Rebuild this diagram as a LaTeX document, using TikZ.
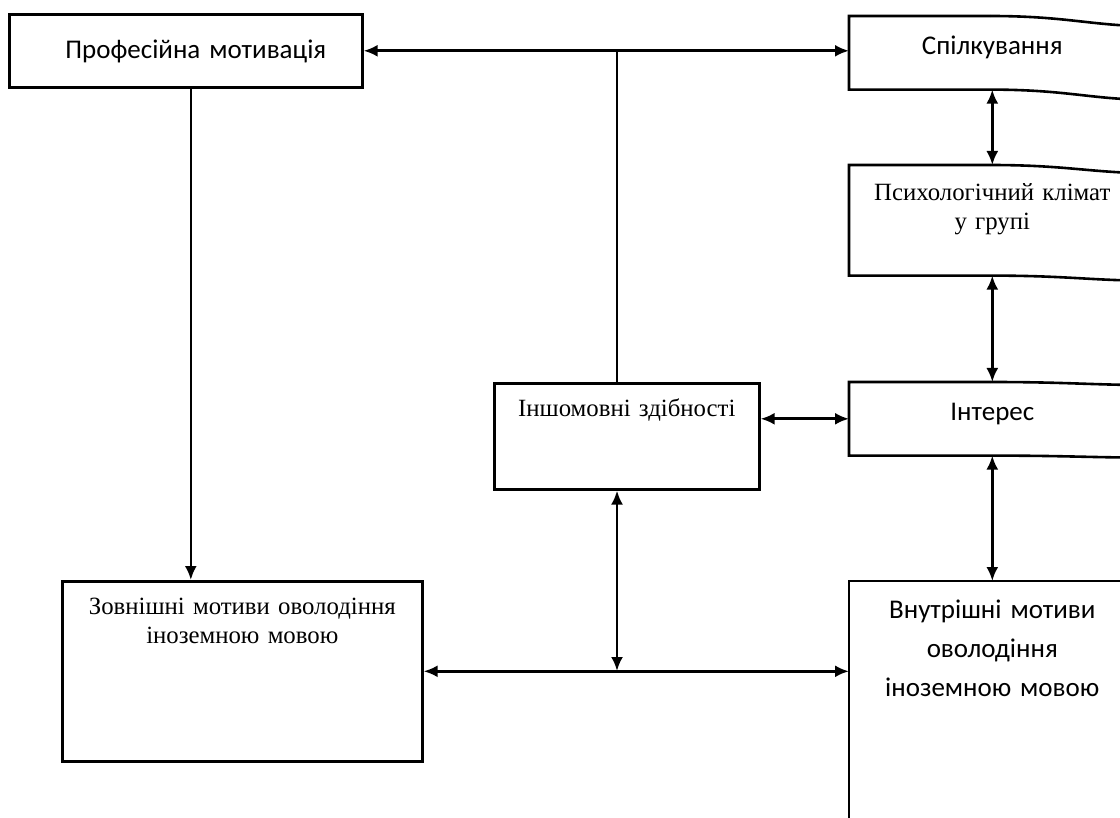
\documentclass[tikz,border=0pt]{standalone}
\usepackage{fontspec}
\setmainfont{Liberation Serif}
\setsansfont{Carlito}
\usetikzlibrary{arrows.meta}

\tikzset{
  block/.style={draw, inner sep=0pt, align=center, anchor=north west},
  openblock/.style={block, draw=none, text width=142pt},
  sanstext/.style={font=\sffamily\fontsize{13.5}{19.5}\selectfont},
  seriftext/.style={font=\fontsize{12.4}{14.5}\selectfont},
}

\begin{document}
\begin{tikzpicture}[x=0.5pt, y=-0.5pt, line width=1.3pt, >={Latex[length=7pt,width=6pt]}]
  \useasboundingbox (0,0) rectangle (1120,818);
  \clip (0,0) rectangle (1120,818);

  \node[block, sanstext, text width=176.5pt, text height=22pt, text depth=14.5pt] (prof) at (8,13) {\hspace*{10pt}Професійна мотивація};
  \node[openblock, sanstext, text height=18.5pt, text depth=17pt] (spilk) at (849,16) {Спілкування};
  \node[openblock, seriftext, text height=17pt, text depth=37pt] (klimat) at (849,165) {Психологічний клімат\\ у групі};
  \node[block, seriftext, text width=132.5pt, text height=16.5pt, text depth=36.5pt] (inshom) at (493,382) {Іншомовні здібності};
  \node[openblock, sanstext, text height=18.5pt, text depth=17pt] (interes) at (849,382) {Інтерес};
  \node[block, seriftext, text width=180pt, text height=16.5pt, text depth=73.5pt] (zovn) at (61,580) {Зовнішні мотиви оволодіння\\ іноземною мовою};
  \node[openblock, sanstext, text height=18pt, text depth=121.5pt] (vnutr) at (849,581) {Внутрішні мотиви\\ оволодіння\\ іноземною мовою};

  % boxes cut by the right edge of the page
  \foreach \b/\dt/\db in {spilk/10/10, klimat/8/5, interes/3/2, vnutr/0/0} {
    \draw ([xshift=70.5pt]\b.north west) -- (\b.north west) -- (\b.south west) -- ++(141,0) .. controls +(70,0) and +(-50,-\db/5) .. ++(145,\db);
    \draw ([xshift=70.5pt]\b.north west) .. controls +(70,0) and +(-50,-\dt/5) .. ++(145,\dt);
  }

  \coordinate (split) at (617,50);
  \coordinate (join) at (617,671);

  \draw[<->] (prof.east) -- (prof.east -| spilk.west);
  \draw (split) -- (split |- inshom.north);
  \draw[->] ([xshift=2.5pt]prof.south) -- ([xshift=2.5pt]prof.south |- zovn.north);
  \draw[<->] (spilk.south) -- (klimat.north);
  \draw[<->] (klimat.south) -- (interes.north);
  \draw[<->] (interes.west -| inshom.east) -- (interes.west);
  \draw[<->] (interes.south) -- (vnutr.north);
  \draw[<->] (split |- inshom.south) -- (join);
  \draw[<->] (zovn.east) -- (zovn.east -| vnutr.west);
\end{tikzpicture}
\end{document}
